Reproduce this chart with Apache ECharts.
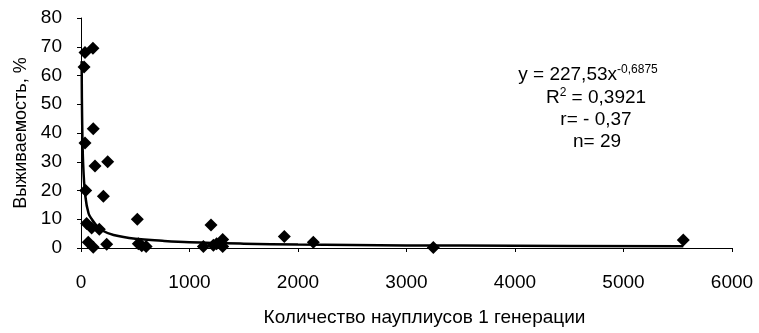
<!DOCTYPE html>
<html><head><meta charset="utf-8">
<script src="https://cdn.jsdelivr.net/npm/echarts@6/dist/echarts.min.js"></script>
<style>html,body{margin:0;padding:0;background:#fff}#c{width:759px;height:333px}</style>
</head><body><div id="c"></div>
<script>
// Observed points (count of nauplii, survival %)
const pointsX = [28, 37, 110, 113, 37, 129, 246, 43, 206, 519, 52, 98, 169, 67, 113, 237, 528, 560, 600, 1128, 1198, 1220, 1250, 1306, 1306, 1874, 2141, 3247, 5551];
const pointsY = [63, 68, 69.5, 41.5, 36.5, 28.5, 30, 20, 18, 10, 8.5, 7, 6.5, 2, 0.3, 1.3, 1.5, 0.8, 0.5, 0.5, 8, 1, 1.5, 3, 0.5, 4, 2, 0.2, 2.8];
// Trend line
const trendX = [6, 10, 20, 40, 70, 100, 150, 200, 300, 500, 750, 1000, 1500, 2000, 3000, 4000, 5551];
const trendY = [65, 46, 29, 18, 12, 10, 7.5, 6, 4.5, 3.2, 2.5, 2, 1.5, 1.2, 0.9, 0.8, 0.6];
const xTicks = [0, 1000, 2000, 3000, 4000, 5000, 6000];
const yTicks = [0, 10, 20, 30, 40, 50, 60, 70, 80];
const xTitle = 'Количество науплиусов 1 генерации';
const yTitle = 'Выживаемость, %';

const font = 'Arial, "Liberation Sans", sans-serif';
const chart = echarts.init(document.getElementById('c'), null, {renderer: 'canvas'});
const axisLine = {show: true, lineStyle: {color: '#000', width: 1}};
const rich = {
  b: {fontSize: 19, fontFamily: font, color: '#000'},
  s: {fontSize: 12, fontFamily: font, color: '#000', padding: [0, 0, 10, 0]}
};
chart.setOption({
  animation: false,
  backgroundColor: '#fff',
  grid: {left: 81, right: 27, top: 18, bottom: 85, containLabel: false},
  xAxis: {
    type: 'value', min: xTicks[0], max: xTicks[xTicks.length - 1], interval: 1000,
    axisLine: axisLine, splitLine: {show: false},
    axisTick: {show: true, inside: false, length: 4, lineStyle: {color: '#000'}},
    axisLabel: {color: '#000', fontSize: 19, fontFamily: font, margin: 25, formatter: v => String(v)},
    name: xTitle, nameLocation: 'middle', nameGap: 60,
    nameTextStyle: {color: '#000', fontSize: 19, fontFamily: font, padding: [0, 0, 0, 36]}
  },
  yAxis: {
    type: 'value', min: yTicks[0], max: yTicks[yTicks.length - 1], interval: 10,
    axisLine: axisLine, splitLine: {show: false},
    axisTick: {show: true, inside: false, length: 4, lineStyle: {color: '#000'}},
    axisLabel: {color: '#000', fontSize: 19, fontFamily: font, margin: 19, formatter: v => String(v)},
    name: yTitle, nameLocation: 'middle', nameGap: 50,
    nameTextStyle: {color: '#000', fontSize: 18, fontFamily: font}
  },
  series: [
    {
      type: 'line', data: trendX.map((x, i) => [x, trendY[i]]),
      smooth: 0.4, showSymbol: false, lineStyle: {color: '#000', width: 2.5}, z: 2
    },
    {
      type: 'scatter', data: pointsX.map((x, i) => [x, pointsY[i]]),
      symbol: 'diamond', symbolSize: [13, 13], itemStyle: {color: '#000', opacity: 1}, z: 3
    }
  ],
  graphic: [
    {type: 'text', x: 588, y: 75, style: {rich: rich, text: '{b|y = 227,53x}{s|-0,6875}', align: 'center', verticalAlign: 'middle'}},
    {type: 'text', x: 596, y: 98, style: {rich: rich, text: '{b|R}{s|2}{b| = 0,3921}', align: 'center', verticalAlign: 'middle'}},
    {type: 'text', x: 596, y: 120, style: {rich: rich, text: '{b|r= - 0,37}', align: 'center', verticalAlign: 'middle'}},
    {type: 'text', x: 597, y: 142, style: {rich: rich, text: '{b|n= 29}', align: 'center', verticalAlign: 'middle'}}
  ]
});
</script></body></html>
